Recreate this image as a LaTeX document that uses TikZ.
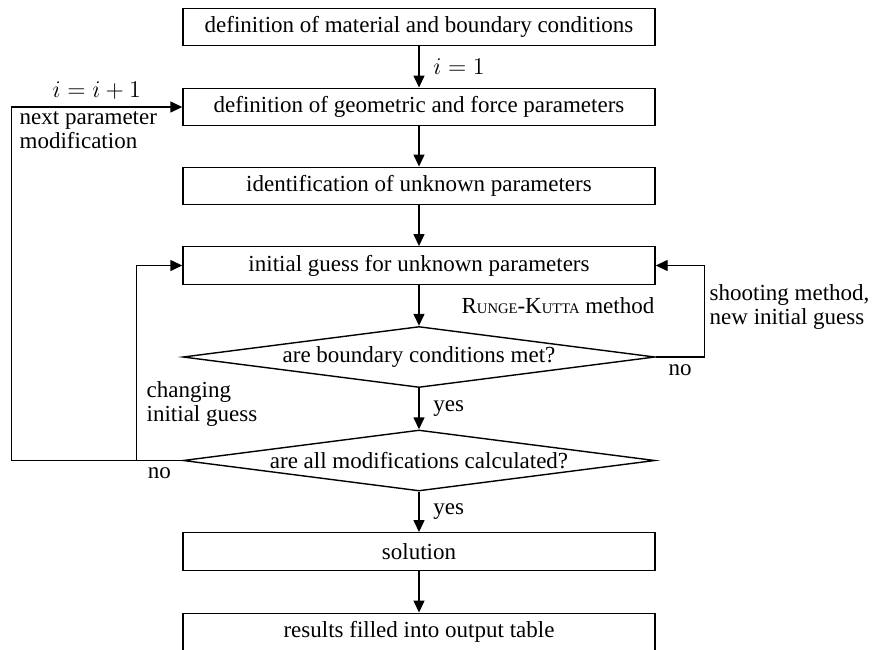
\documentclass[tikz,border=0pt]{standalone}
\usepackage{fontspec}
\setmainfont{Liberation Serif}
\usetikzlibrary{shapes.geometric,arrows.meta}
\newcommand{\fakesc}[2]{#1{\fontsize{7.3}{9}\selectfont #2}}
\begin{document}
\begin{tikzpicture}[x=0.5pt,y=-0.5pt,line width=0.7pt,font=\fontsize{11.5}{12.2}\selectfont,
  box/.style={draw,rectangle,minimum width=236pt,minimum height=18.75pt,inner sep=0pt},
  decision/.style={draw,diamond,aspect=7.7,minimum width=236pt,minimum height=30.5pt,inner sep=0pt},
  flow/.style={-{Triangle[length=6pt,width=5.5pt]}},
  lab/.style={align=left,inner sep=0pt,anchor=west}]
\useasboundingbox (0,0) rectangle (878,649);
% main column, centres in pixel units
\node[box] (material) at (419,27) {definition of material and boundary conditions};
\node[box] (geometry) at (419,107) {definition of geometric and force parameters};
\node[box] (unknown) at (419,186) {identification of unknown parameters};
\node[box] (guess) at (419,265.5) {initial guess for unknown parameters};
\node[decision] (bcmet) at (419,357) {are boundary conditions met?};
\node[decision] (allmod) at (419,460.5) {are all modifications calculated?};
\node[box] (solution) at (419,551.5) {solution};
\node[box] (results) at (419,632) {results filled into output table};
% straight connectors
\draw[flow] (material) -- node[right=3.5pt]{$i=1$} (geometry);
\draw[flow] (geometry) -- (unknown);
\draw[flow] (unknown) -- (guess);
\draw[flow] (guess) -- (bcmet);
\draw[flow] (bcmet) -- node[right=3.5pt]{yes} (allmod);
\draw[flow] (allmod) -- node[right=3.5pt]{yes} (solution);
\draw[flow] (solution) -- (results);
\node[inner sep=0pt,anchor=east] (rk) at (655,306) {\fakesc{R}{UNGE}-\fakesc{K}{UTTA} method};
% loops
\draw[flow] (bcmet.east) -- node[below]{no} ++(49,0) |- (guess.east);
\node[lab] (shoot) at (709,307) {shooting method,\\new initial guess};
\draw[flow] (allmod.west) -- ++(-171,0) |- node[pos=0.75,above]{$i=i+1$} (geometry.west);
\node[lab] (nextmod) at (19,130) {next parameter\\modification};
\draw[flow] (allmod.west) -- node[below]{no} ++(-46,0) |- (guess.west);
\node[lab] (changing) at (146,404) {changing\\initial guess};
\end{tikzpicture}
\end{document}
